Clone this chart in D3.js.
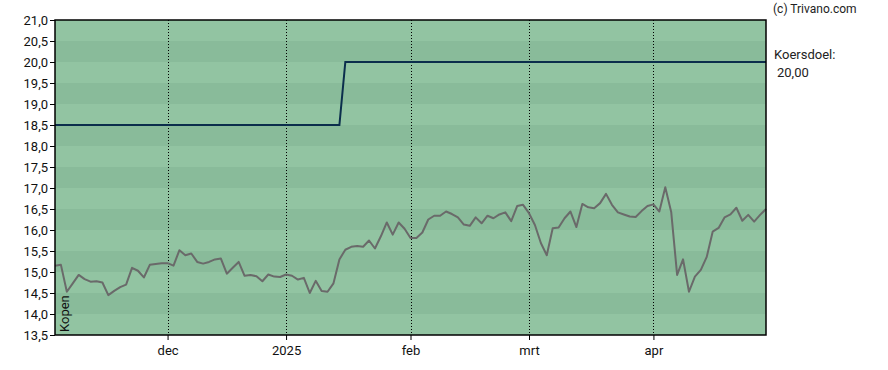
<!DOCTYPE html>
<html>
<head>
<meta charset="utf-8">
<script src="https://cdn.jsdelivr.net/npm/d3@7"></script>
<style>
  html, body { margin: 0; padding: 0; background: #fff; }
  svg { display: block; font-family: Roboto, "Liberation Sans", Arial, sans-serif; }
</style>
</head>
<body>
<svg id="chart" width="888" height="370"></svg>
<script>
// ---- data (trading-day index based) ----
const prices = [
  15.15, 15.17, 14.53, 14.73, 14.93, 14.83, 14.77, 14.78, 14.75, 14.45,
  14.55, 14.64, 14.70, 15.10, 15.03, 14.87, 15.17, 15.19, 15.21, 15.21,
  15.15, 15.52, 15.40, 15.44, 15.24, 15.20, 15.24, 15.30, 15.32, 14.96,
  15.10, 15.24, 14.91, 14.93, 14.90, 14.78, 14.94, 14.89, 14.88, 14.94,
  14.91, 14.82, 14.86, 14.50, 14.79, 14.55, 14.53, 14.73, 15.30, 15.53,
  15.60, 15.62, 15.60, 15.75, 15.56, 15.85, 16.18, 15.89, 16.18, 16.03,
  15.81, 15.81, 15.94, 16.25, 16.34, 16.34, 16.44, 16.38, 16.30, 16.13,
  16.10, 16.30, 16.16, 16.34, 16.28, 16.37, 16.42, 16.21, 16.57, 16.60,
  16.40, 16.12, 15.69, 15.40, 16.04, 16.06, 16.28, 16.44, 16.07, 16.62,
  16.54, 16.52, 16.64, 16.86, 16.60, 16.42, 16.37, 16.32, 16.31, 16.45,
  16.57, 16.61, 16.44, 17.02, 16.43, 14.93, 15.30, 14.53, 14.89, 15.05,
  15.36, 15.96, 16.05, 16.30, 16.37, 16.53, 16.22, 16.36, 16.20, 16.36,
  16.50
];
// target price (koersdoel) per trading day
const targetSteps = [
  { from: 0, to: 48, value: 18.5 },
  { from: 49, to: 120, value: 20.0 }
];
const targets = prices.map((_, i) => targetSteps.find(s => i >= s.from && i <= s.to).value);

const xTickIndex = [19, 39, 60, 80, 101];
const xTickLabels = ["dec", "2025", "feb", "mrt", "apr"];
const yTicks = [13.5, 14.0, 14.5, 15.0, 15.5, 16.0, 16.5, 17.0, 17.5, 18.0, 18.5, 19.0, 19.5, 20.0, 20.5, 21.0];
const yDomain = [13.5, 21.0];
const targetLabel = "Koersdoel:";
const targetValueLabel = "20,00";
const adviceLabel = "Kopen";
const copyright = "(c) Trivano.com";

// ---- layout ----
const svg = d3.select("#chart");
const L = 55, T = 20, R = 766, B = 335;

const x = d3.scaleLinear().domain([0, prices.length - 1]).range([L, R]);
const y = d3.scaleLinear().domain(yDomain).range([B, T]);
const fmt = v => d3.format(".1f")(v).replace(".", ",");

// background bands
const bands = d3.range(yTicks.length - 1).map(i => [yTicks[i], yTicks[i + 1], i]);
svg.append("g").selectAll("rect").data(bands).join("rect")
  .attr("x", L).attr("width", R - L)
  .attr("y", d => y(d[1])).attr("height", d => y(d[0]) - y(d[1]))
  .attr("fill", d => d[2] % 2 === 0 ? "#92c4a2" : "#89bb9a");

// vertical dotted gridlines
svg.append("g").selectAll("line").data(xTickIndex).join("line")
  .attr("x1", d => Math.round(x(d)) + 0.5).attr("x2", d => Math.round(x(d)) + 0.5)
  .attr("y1", T).attr("y2", B)
  .attr("stroke", "#000").attr("stroke-width", 1).attr("stroke-dasharray", "1,2");

// target line
svg.append("path").datum(targets)
  .attr("fill", "none").attr("stroke", "#0b2e4c").attr("stroke-width", 2)
  .attr("d", d3.line().x((d, i) => x(i)).y(d => y(d)));

// price line
svg.append("path").datum(prices)
  .attr("fill", "none").attr("stroke", "#6a6a6a").attr("stroke-width", 2)
  .attr("stroke-linejoin", "round")
  .attr("d", d3.line().x((d, i) => x(i)).y(d => y(d)));

// frame
svg.append("rect").attr("x", L).attr("y", T).attr("width", R - L).attr("height", B - T)
  .attr("fill", "none").attr("stroke", "#000").attr("stroke-width", 1.5);

// y axis
const yAxis = d3.axisLeft(y).tickValues(yTicks).tickFormat(fmt).tickSize(5).tickPadding(2);
const gy = svg.append("g").attr("transform", `translate(${L},0)`).call(yAxis);
gy.select(".domain").remove();
gy.selectAll("text").attr("font-size", 13).attr("fill", "#111").attr("font-family", "Roboto, sans-serif");
gy.selectAll("line").attr("stroke", "#000");

// x axis
const xAxis = d3.axisBottom(x).tickValues(xTickIndex)
  .tickFormat((d, i) => xTickLabels[i]).tickSize(5).tickPadding(6);
const gx = svg.append("g").attr("transform", `translate(0,${B})`).call(xAxis);
gx.select(".domain").remove();
gx.selectAll("text").attr("font-size", 13).attr("fill", "#111").attr("font-family", "Roboto, sans-serif");
gx.selectAll("line").attr("stroke", "#000");

// texts
svg.append("text").attr("x", 773).attr("y", 13).attr("font-size", 12).attr("fill", "#222")
  .text(copyright);
svg.append("text").attr("x", 774).attr("y", 59).attr("font-size", 13).attr("fill", "#222")
  .text(targetLabel);
svg.append("text").attr("x", 777).attr("y", 77).attr("font-size", 13).attr("fill", "#222")
  .text(targetValueLabel);
svg.append("text").attr("transform", `translate(69,332) rotate(-90)`)
  .attr("font-size", 13).attr("fill", "#111").text(adviceLabel);
</script>
</body>
</html>
